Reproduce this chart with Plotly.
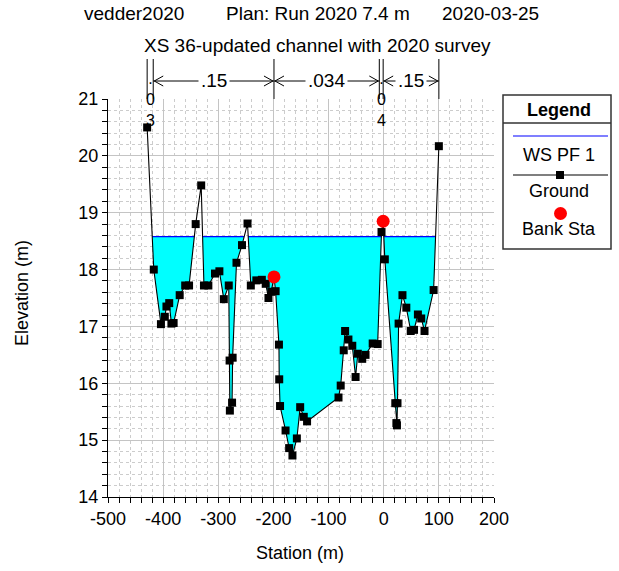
import numpy as np
import plotly.graph_objects as go

# Cross-section XS 36 ground survey (station m, elevation m)
station = [-429, -417, -404, -397, -394, -389, -385, -381, -370, -360, -353,
           -341, -331, -326, -318, -306, -298, -290, -281, -279.5, -279, -275,
           -274, -267, -257, -247, -241, -231, -221, -214, -209, -204, -199,
           -196, -190, -189.5, -188, -178, -171.5, -165.5, -157.5, -151.5,
           -145, -139, -82, -78, -72.5, -70, -64, -57, -51, -47, -39, -33,
           -20, -11, -4, -1, 2, 21, 23, 24, 25, 27, 34, 41, 49, 55, 62, 68,
           74, 90.5, 100]
elevation = [20.50, 18.00, 17.04, 17.17, 17.35, 17.41, 17.05, 17.06, 17.55,
             17.72, 17.72, 18.80, 19.48, 17.72, 17.72, 17.93, 17.97, 17.48,
             17.72, 16.40, 15.52, 15.66, 16.45, 18.12, 18.43, 18.81, 17.72,
             17.81, 17.82, 17.75, 17.50, 17.61, 17.87, 17.62, 16.68, 16.07,
             15.60, 15.17, 14.86, 14.73, 15.03, 15.58, 15.41, 15.33, 15.75,
             15.96, 16.58, 16.92, 16.77, 16.66, 16.11, 16.52, 16.43, 16.50,
             16.70, 16.69, 18.66, 18.85, 18.18, 15.65, 15.30, 15.26, 15.65,
             17.05, 17.55, 17.33, 16.92, 16.94, 17.21, 17.14, 16.92, 17.64,
             20.17]
ws_elev = 18.58                     # WS PF 1
bank_sta = [-199, -1]               # left / right bank stations
n_breaks = [-429, -418, -199, -8, -1, 100]
n_values = [".03", ".15", ".034", ".04", ".15"]
x_ticks = [-500, -400, -300, -200, -100, 0, 100, 200]
y_ticks = [14, 15, 16, 17, 18, 19, 20, 21]

W, H = 619, 571
ML, MR, MT, MB = 108, 125, 99, 74
PW, PH = W - ML - MR, H - MT - MB


def px_x(p):
    return (p - ML) / PW


def px_y(p):
    return (H - MB - p) / PH


def wet_regions(xs, ys, ws):
    regions, cur = [], None
    for i, (x, y) in enumerate(zip(xs, ys)):
        if y < ws:
            if cur is None:
                if i > 0:
                    xp, yp = xs[i - 1], ys[i - 1]
                    cur = [(xp + (ws - yp) * (x - xp) / (y - yp), ws)]
                else:
                    cur = [(x, ws)]
            cur.append((x, y))
        elif cur is not None:
            xp, yp = xs[i - 1], ys[i - 1]
            cur.append((xp + (ws - yp) * (x - xp) / (y - yp), ws))
            regions.append(cur)
            cur = None
    if cur is not None:
        cur.append((xs[-1], ws))
        regions.append(cur)
    return regions


fig = go.Figure()

# water fill and water-surface line
for reg in wet_regions(station, elevation, ws_elev):
    rx = [p[0] for p in reg] + [reg[0][0]]
    ry = [p[1] for p in reg] + [reg[0][1]]
    fig.add_trace(go.Scatter(x=rx, y=ry, mode="lines", fill="toself",
                             fillcolor="#00FFFF", line=dict(width=0),
                             hoverinfo="skip"))
    fig.add_trace(go.Scatter(x=[reg[0][0], reg[-1][0]], y=[ws_elev, ws_elev],
                             mode="lines", line=dict(color="#0000FF", width=1.2),
                             hoverinfo="skip"))

# ground profile
fig.add_trace(go.Scatter(x=station, y=elevation, mode="lines+markers",
                         line=dict(color="black", width=1.1),
                         marker=dict(symbol="square", size=8, color="black")))

# bank stations
bank_elev = np.interp(bank_sta, station, elevation)
fig.add_trace(go.Scatter(x=bank_sta, y=bank_elev, mode="markers",
                         marker=dict(symbol="circle", size=13, color="#FF0000")))

shapes, annos = [], []
FONT = "Liberation Sans, Arial, sans-serif"


def txt(x, y, text, size=18, xref="paper", yref="paper", **kw):
    d = dict(x=x, y=y, xref=xref, yref=yref, text=text, showarrow=False,
             xanchor="center", yanchor="middle",
             font=dict(size=size, family=FONT, color="black"))
    d.update(kw)
    return d


# Manning's n bands above the plot
y_top, y_arrow = px_y(59), px_y(81)
for b in n_breaks:
    shapes.append(dict(type="line", xref="x", yref="paper", x0=b, x1=b,
                       y0=1, y1=y_top, line=dict(color="black", width=1)))
ux = 700 / PW   # data units per pixel
uy = 1 / PH     # paper units per pixel
for i, nv in enumerate(n_values):
    xl, xr = n_breaks[i], n_breaks[i + 1]
    xm = (xl + xr) / 2
    if (xr - xl) / ux > 30:
        shapes.append(dict(type="line", xref="x", yref="paper", x0=xl, x1=xr,
                           y0=y_arrow, y1=y_arrow, line=dict(color="black", width=1)))
        for tip, sgn in ((xl + ux, 1), (xr - ux, -1)):
            path = (f"M {tip + sgn * 9 * ux},{y_arrow + 5 * uy} "
                    f"L {tip},{y_arrow} L {tip + sgn * 9 * ux},{y_arrow - 5 * uy}")
            shapes.append(dict(type="path", xref="x", yref="paper", path=path,
                               line=dict(color="black", width=1)))
        annos.append(txt(xm, y_arrow, nv, size=19, xref="x",
                         bgcolor="white", borderpad=2))
    else:
        # narrow band: characters stacked vertically
        annos.append(txt(xm, px_y(99), "<br>".join(nv), size=16, xref="x"))

# titles
annos += [
    txt(px_x(82), px_y(13), "vedder2020", size=19, xanchor="left"),
    txt(px_x(224), px_y(13), "Plan: Run 2020 7.4 m", size=19, xanchor="left"),
    txt(px_x(440), px_y(13), "2020-03-25", size=19, xanchor="left"),
    txt(px_x(317), px_y(46), "XS 36-updated channel with 2020 survey", size=19),
]

# axis titles
annos += [
    txt(px_x(22), px_y(293), "Elevation (m)", textangle=-90),
    txt(px_x(300), px_y(553), "Station (m)"),
]

# legend box
LX0, LX1, LY0, LY1 = 503, 611, 95, 249
shapes.append(dict(type="rect", xref="paper", yref="paper", x0=px_x(LX0), x1=px_x(LX1),
                   y0=px_y(LY1), y1=px_y(LY0), line=dict(color="#333333", width=1.5),
                   fillcolor="white"))
shapes.append(dict(type="line", xref="paper", yref="paper", x0=px_x(LX0), x1=px_x(LX1),
                   y0=px_y(123), y1=px_y(123), line=dict(color="#333333", width=1.5)))
shapes.append(dict(type="line", xref="paper", yref="paper", x0=px_x(513), x1=px_x(608),
                   y0=px_y(136), y1=px_y(136), line=dict(color="#0000FF", width=1.2)))
shapes.append(dict(type="line", xref="paper", yref="paper", x0=px_x(513), x1=px_x(608),
                   y0=px_y(175), y1=px_y(175), line=dict(color="black", width=1.2)))
shapes.append(dict(type="rect", xref="paper", yref="paper", x0=px_x(556), x1=px_x(564),
                   y0=px_y(179), y1=px_y(171), line=dict(width=0), fillcolor="black"))
shapes.append(dict(type="circle", xref="paper", yref="paper", x0=px_x(554), x1=px_x(567),
                   y0=px_y(220), y1=px_y(207), line=dict(width=0), fillcolor="#FF0000"))
for t, py in (("<b>Legend</b>", 110), ("WS PF 1", 155), ("Ground", 191), ("Bank Sta", 229)):
    annos.append(txt(px_x(559), px_y(py), t))

axis_common = dict(showgrid=True, gridcolor="#c4c4c4", gridwidth=1, zeroline=False,
                   showline=True, linecolor="black", linewidth=1, ticks="outside",
                   ticklen=5, tickcolor="black", mirror=False,
                   tickfont=dict(size=18, family=FONT, color="black"))
fig.update_xaxes(range=[-500, 200], tickmode="array", tickvals=x_ticks,
                 ticktext=[str(v) for v in x_ticks],
                 minor=dict(dtick=20, tick0=-500, ticks="outside", ticklen=5,
                            tickcolor="black", showgrid=True, gridcolor="#cccccc",
                            griddash="3px,3px"),
                 **axis_common)
fig.update_yaxes(range=[14, 21], tickmode="array", tickvals=y_ticks,
                 ticktext=[str(v) for v in y_ticks],
                 minor=dict(dtick=0.2, tick0=14, ticks="outside", ticklen=5,
                            tickcolor="black", showgrid=True, gridcolor="#cccccc",
                            griddash="3px,3px"),
                 **axis_common)

fig.update_layout(width=W, height=H, margin=dict(l=ML, r=MR, t=MT, b=MB),
                  plot_bgcolor="white", paper_bgcolor="white", showlegend=False,
                  font=dict(family=FONT, size=18, color="black"),
                  shapes=shapes, annotations=annos)

fig.write_html("out.html")
